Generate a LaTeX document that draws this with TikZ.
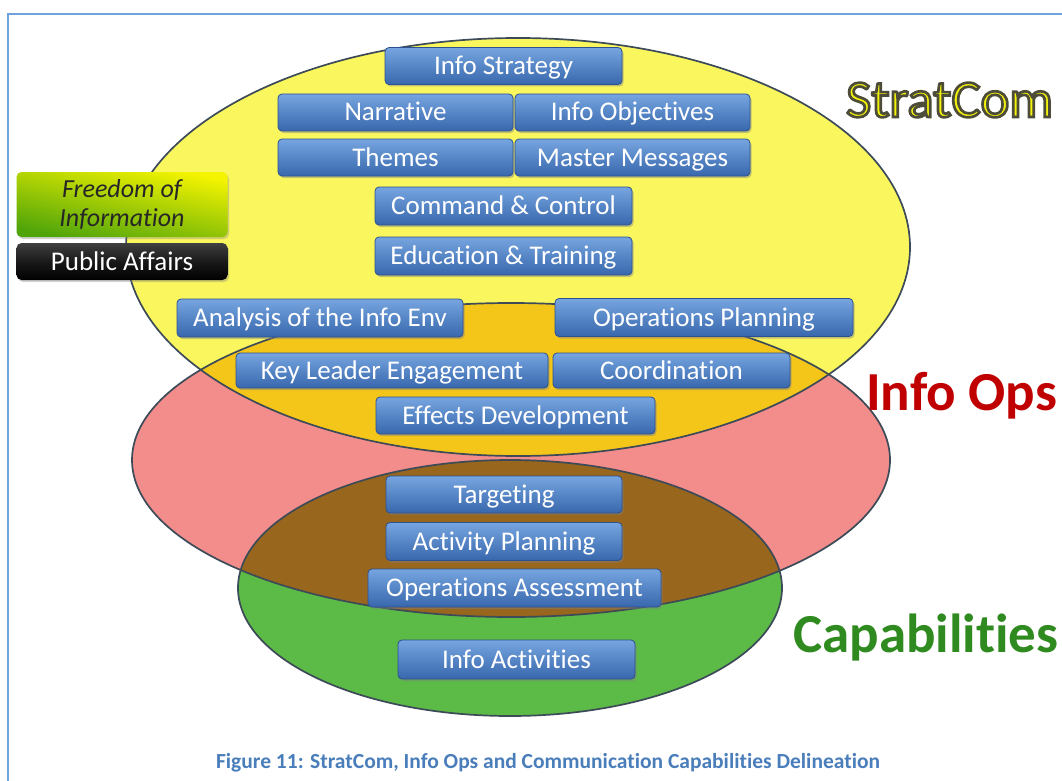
\documentclass[tikz,border=0pt]{standalone}
\usepackage{fontspec}
\setmainfont{Carlito}[Ligatures=NoCommon]
\newfontfamily\stratfont{Carlito}[FakeBold=5,Ligatures=NoCommon]
\usetikzlibrary{shadows}
\definecolor{frameC}{HTML}{6FA3DC}
\definecolor{yelC}{HTML}{FAF75E}
\definecolor{orgC}{HTML}{F5C61A}
\definecolor{pnkC}{HTML}{F28D8B}
\definecolor{brnC}{HTML}{98661D}
\definecolor{grnC}{HTML}{5CBA47}
\definecolor{edgeC}{HTML}{3D4B58}
\definecolor{boxTop}{HTML}{76A5E0}
\definecolor{boxBot}{HTML}{3867AD}
\definecolor{boxEdge}{HTML}{2D5190}
\definecolor{foiY}{HTML}{F4F400}
\definecolor{foiG}{HTML}{4FA40A}
\definecolor{stratY}{HTML}{F2F20A}
\definecolor{opsR}{HTML}{C00000}
\definecolor{capG}{HTML}{2F8A1F}
\definecolor{captC}{HTML}{4A7EBB}
\tikzset{
  bluebox/.style={rounded corners=4pt, top color=boxTop, bottom color=boxBot,
    draw=boxEdge, line width=0.8pt, text=white,
    font=\fontsize{27}{30}\selectfont, inner sep=0pt,
    text height=20pt, text depth=3pt,
    drop shadow={shadow xshift=1.5pt, shadow yshift=-2pt, opacity=0.45}},
  venn/.style={draw=edgeC, line width=1.7pt},
  biglabel/.style={anchor=base west, inner sep=0pt,
    font=\fontsize{55}{60}\selectfont\bfseries},
}
\begin{document}
\begin{tikzpicture}[x=1pt,y=-1pt]
\useasboundingbox (0,0) rectangle (1062,781);
\clip (0,0) rectangle (1062,781);
\fill[white] (0,0) rectangle (1062,781);
\draw[frameC, line width=2pt] (8,14) rectangle (1080,800);

% Venn regions
\fill[yelC] (518,247) ellipse [x radius=392pt, y radius=209pt];
\fill[pnkC] (511,460) ellipse [x radius=379pt, y radius=157pt];
\fill[grnC] (510,588) ellipse [x radius=272pt, y radius=128pt];
\begin{scope}
  \clip (518,247) ellipse [x radius=392pt, y radius=209pt];
  \fill[orgC] (511,460) ellipse [x radius=379pt, y radius=157pt];
\end{scope}
\begin{scope}
  \clip (511,460) ellipse [x radius=379pt, y radius=157pt];
  \fill[brnC] (510,588) ellipse [x radius=272pt, y radius=128pt];
\end{scope}
\draw[venn] (518,247) ellipse [x radius=392pt, y radius=209pt];
\draw[venn] (511,460) ellipse [x radius=379pt, y radius=157pt];
\draw[venn] (510,588) ellipse [x radius=272pt, y radius=128pt];

% blue boxes
\node[bluebox, minimum width=237pt, minimum height=37pt] (strat) at (503.5,66) {Info Strategy};
\node[bluebox, minimum width=235pt, minimum height=37pt] (narr) at (395.5,112.5) {Narrative};
\node[bluebox, minimum width=235pt, minimum height=37pt] (obj) at (632.5,112.5) {Info Objectives};
\node[bluebox, minimum width=235pt, minimum height=37pt] (themes) at (395.5,157.5) {Themes};
\node[bluebox, minimum width=235pt, minimum height=37pt] (master) at (632.5,157.5) {Master Messages};
\node[bluebox, minimum width=257pt, minimum height=38pt] (cc) at (503.5,206) {Command \& Control};
\node[bluebox, minimum width=257pt, minimum height=38pt] (edu) at (503.5,256) {Education \& Training};
\node[bluebox, minimum width=286pt, minimum height=38pt] (anal) at (320,318) {Analysis of the Info Env};
\node[bluebox, minimum width=298pt, minimum height=38pt] (opsplan) at (704,317.5) {Operations Planning};
\node[bluebox, minimum width=312pt, minimum height=35pt] (kle) at (392,370.5) {Key Leader Engagement};
\node[bluebox, minimum width=237pt, minimum height=35pt] (coord) at (671.5,370.5) {Coordination};
\node[bluebox, minimum width=279pt, minimum height=37pt] (eff) at (515.5,415.5) {Effects Development};
\node[bluebox, minimum width=236pt, minimum height=37pt] (targ) at (504,494.5) {Targeting};
\node[bluebox, minimum width=236pt, minimum height=38pt] (act) at (504,541.5) {Activity Planning};
\node[bluebox, minimum width=293pt, minimum height=38pt] (assess) at (514.5,588) {Operations Assessment};
\node[bluebox, minimum width=237pt, minimum height=39pt] (infoact) at (516.5,659.5) {Info Activities};

% side boxes
\node[rounded corners=5pt, top color=foiY, bottom color=foiG, shading angle=-12,
      minimum width=211pt, minimum height=65pt, inner sep=0pt, align=center,
      font=\fontsize{26}{29}\selectfont\itshape, text=black!85,
      drop shadow={shadow xshift=1.5pt, shadow yshift=-2pt, opacity=0.35}]
      (foi) at (122,204.5) {Freedom of\\Information};
\node[rounded corners=5pt, top color=black!75, bottom color=black, middle color=black!90,
      minimum width=211pt, minimum height=37pt, inner sep=0pt, text=white,
      font=\fontsize{27}{30}\selectfont, text height=20pt, text depth=3pt,
      drop shadow={shadow xshift=1.5pt, shadow yshift=-2pt, opacity=0.35}]
      (pa) at (122,261.5) {Public Affairs};

% big labels
\node[anchor=base west, inner sep=0pt, text=stratY] (stratcom) at (846,117)
  {\scalebox{1.03}[1]{\fontsize{53}{58}\stratfont\special{pdf:literal direct 0.30 0.30 0.22 RG}StratCom}};
\node[biglabel, text=opsR] (infoops) at (866,410) {Info Ops};
\node[biglabel, text=capG] (capab) at (793,652) {Capabilities};

% caption
\node[text=captC, font=\fontsize{21.5}{24}\selectfont\bfseries, inner sep=0pt]
  (caption) at (548,763) {Figure 11: StratCom, Info Ops and Communication Capabilities Delineation};
\end{tikzpicture}
\end{document}
